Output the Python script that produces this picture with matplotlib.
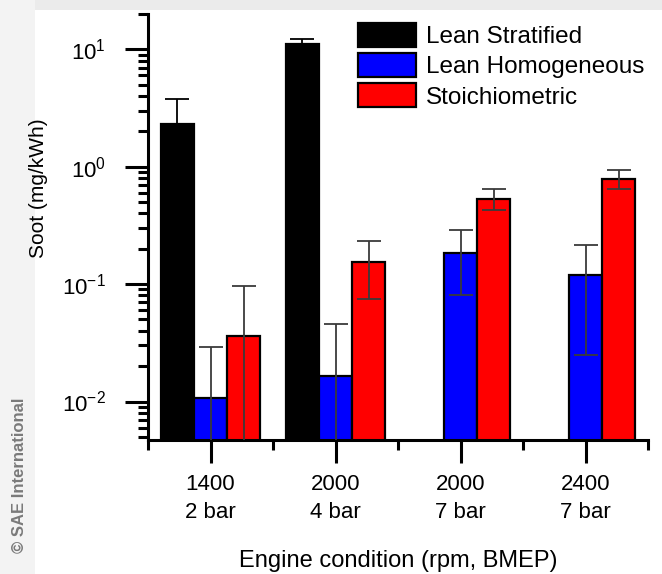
import numpy as np
import matplotlib
matplotlib.use("Agg")
import matplotlib.pyplot as plt
from matplotlib.patches import Rectangle
from matplotlib.ticker import LogLocator, FixedLocator, NullFormatter, FuncFormatter

plt.rcParams['font.family'] = ['Liberation Sans', 'DejaVu Sans']
plt.rcParams['mathtext.fontset'] = 'custom'
plt.rcParams['mathtext.rm'] = 'Liberation Sans'
plt.rcParams['mathtext.default'] = 'regular'

# data
conditions = ["1400\n2 bar", "2000\n4 bar", "2000\n7 bar", "2400\n7 bar"]
series = ["Lean Stratified", "Lean Homogeneous", "Stoichiometric"]
colors = ["black", "#0000ff", "#ff0000"]

stratified = [2.32, 11.1, np.nan, np.nan]
stratified_err = [1.47, 1.2, np.nan, np.nan]
homogeneous = [0.0108, 0.0166, 0.185, 0.12]
homogeneous_err = [0.0186, 0.029, 0.105, 0.095]
stoich = [0.0365, 0.155, 0.534, 0.79]
stoich_err = [0.06, 0.08, 0.11, 0.15]

values = [stratified, homogeneous, stoich]
errors = [stratified_err, homogeneous_err, stoich_err]

fig = plt.figure(figsize=(6.62, 5.74), dpi=100)
fig.patch.set_facecolor("white")
# grey frame of the screenshot (top band, left strip)
fig.patches.append(Rectangle((0, 1 - 10 / 574), 1, 10 / 574, transform=fig.transFigure,
                             facecolor="#ebebeb", edgecolor="none", zorder=0))
fig.patches.append(Rectangle((0, 0), 35 / 662, 1, transform=fig.transFigure,
                             facecolor="#f3f3f3", edgecolor="none", zorder=0))

ax = fig.add_axes([148 / 662, 1 - 440 / 574, 500 / 662, 426 / 574])
ax.set_facecolor("none")
ax.set_zorder(2)

x = np.arange(len(conditions))
w = 0.265
handles = []
for i, (vals, errs, c, name) in enumerate(zip(values, errors, colors, series)):
    vals = np.array(vals)
    errs = np.array(errs)
    pos = x + (i - 1) * w
    b = ax.bar(pos, vals, width=w, color=c, edgecolor="black", linewidth=1.6,
               label=name, zorder=2)
    handles.append(b)
    lo = np.where(vals - errs > 0, errs, vals - 1e-4)
    ecol = "black" if i == 0 else "#3a3a3a"
    ax.errorbar(pos, vals, yerr=[lo, errs], fmt="none", ecolor=ecol,
                elinewidth=1.3, capsize=8.5, capthick=1.3, zorder=3)

ax.set_yscale("log")
ax.set_ylim(0.0047, 20)
ax.set_xlim(-0.5, 3.5)

ax.yaxis.set_major_locator(LogLocator(base=10, numticks=10))
ax.yaxis.set_major_formatter(FuncFormatter(
    lambda v, p: r"$\mathregular{10^{%d}}$" % int(round(np.log10(v)))))
ax.yaxis.set_minor_locator(LogLocator(base=10, subs=np.arange(2, 10), numticks=20))
ax.yaxis.set_minor_formatter(NullFormatter())

ax.set_xticks(x)
ax.set_xticklabels(conditions, fontsize=16, linespacing=1.45)
ax.xaxis.set_minor_locator(FixedLocator(np.arange(-0.5, 3.6, 1.0)))

for s in ["top", "right"]:
    ax.spines[s].set_visible(False)
for s in ["left", "bottom"]:
    ax.spines[s].set_linewidth(2.2)

ax.tick_params(which="major", direction="out", length=16.5, width=2.2, pad=8)
ax.tick_params(which="minor", direction="out", length=7, width=2.2)
ax.tick_params(axis="y", which="major", labelsize=16, pad=14)

ax.set_ylabel("Soot (mg/kWh)", fontsize=15)
ax.yaxis.set_label_coords(-0.2, 0.59)
ax.set_xlabel("Engine condition (rpm, BMEP)", fontsize=17, labelpad=19)

leg = ax.legend(handles=handles, loc="upper left", bbox_to_anchor=(358 / 662, 1 - 23 / 574),
                bbox_transform=fig.transFigure, frameon=False, fontsize=17.5,
                handlelength=2.38, handleheight=1.15, handletextpad=0.4,
                labelspacing=0.2, borderaxespad=0, borderpad=0)

fig.text(20 / 662, 1 - 475 / 574, "© SAE International", rotation=90, fontsize=12,
         fontweight="bold", color="#7a7a7a", ha="center", va="center")

fig.savefig("out.png", dpi=100, facecolor=fig.get_facecolor())
